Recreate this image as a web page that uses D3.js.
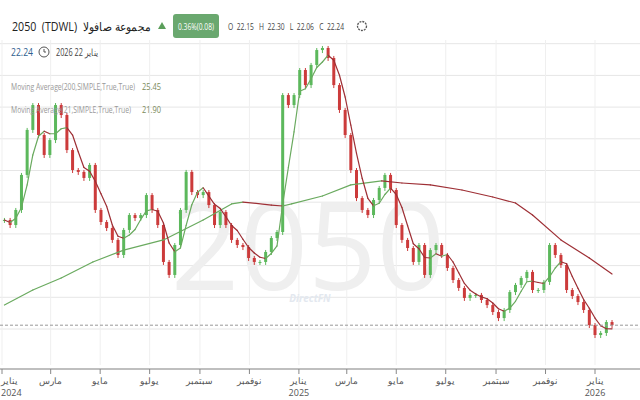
<!DOCTYPE html>
<html><head><meta charset="utf-8">
<script src="https://cdn.jsdelivr.net/npm/d3@7"></script>
<style>body{margin:0;background:#fff;font-family:"Open Sans",sans-serif}</style>
</head><body><svg id="c" width="640" height="400"></svg>
<script>
// weekly closes, starting week of 2024-01-04
const closes=[28.88,28.56,29.51,31.72,34.56,36.13,34.24,32.98,33.92,36.13,35.50,33.29,32.03,31.91,31.53,32.35,29.51,28.75,28.37,27.62,26.67,28.25,29.19,29.00,29.19,30.45,29.51,28.56,26.23,25.41,27.30,29.51,31.91,30.64,30.45,30.64,29.82,28.56,29.38,28.56,27.62,27.30,27.17,26.48,26.23,26.23,26.86,27.74,28.12,36.76,36.13,36.76,38.34,37.39,38.66,39.60,39.73,39.10,37.39,35.82,34.24,32.03,30.26,29.51,29.19,30.14,30.90,31.72,30.77,28.56,27.62,27.11,26.23,27.30,25.41,26.98,27.30,26.67,25.85,25.09,24.59,23.96,24.15,24.15,23.83,23.51,23.07,22.69,23.20,24.33,24.78,25.22,25.60,24.46,24.46,24.97,27.30,26.67,26.04,24.46,24.08,23.70,23.20,22.25,21.62,21.75,22.44,22.24];
const ma200Week=[0,5,10,15.5,21,28,35,40,42,47,49,50.6,56,61,66.4,70,75,80.5,86,90,93,98,103,107];
const ma200Vals=[23.51,24.46,25.22,26.23,26.98,27.62,28.88,29.89,30.01,29.82,29.76,29.89,30.39,31.09,31.34,31.21,31.09,30.77,30.33,29.95,29.19,27.62,26.48,25.47];
const tickDates=["2024-01-01","2024-03-01","2024-05-01","2024-07-01","2024-09-01","2024-11-01","2025-01-01","2025-03-01","2025-05-01","2025-07-01","2025-09-01","2025-11-01","2026-01-01"];
const tickLabels=["يناير","مارس","مايو","يوليو","سبتمبر","نوفمبر","يناير","مارس","مايو","يوليو","سبتمبر","نوفمبر","يناير"];
const tickYears=["2024","","","","","","2025","","","","","","2026"];
const gridPrices=[22,24,26,28,30,32,34,36,38,40];

const svg=d3.select("#c");
const start=new Date(2024,0,4);
const wk=i=>d3.timeDay.offset(start,Math.round(i*7));
const x=d3.scaleTime().domain([new Date(2024,0,1),new Date(2026,0,1)]).range([2,595]);
const y=d3.scaleLinear().domain([22,40]).range([329,43.7]);
const green="#5cb85c",red="#cc3b3b",up="#6aaa5f",down="#9e2f35";

svg.append("g").selectAll("line").data(gridPrices).join("line")
 .attr("x1",0).attr("x2",640).attr("y1",d=>y(d)).attr("y2",d=>y(d)).attr("stroke","#e6e6e6");
svg.append("g").selectAll("line").data(tickDates).join("line")
 .attr("x1",d=>x(new Date(d))).attr("x2",d=>x(new Date(d))).attr("y1",40).attr("y2",365).attr("stroke","#efefef");

svg.append("text").attr("x",308).attr("y",290).attr("text-anchor","middle").attr("font-size",120)
 .attr("font-family","Open Sans").attr("fill","#efefef").text("2050");
svg.append("text").attr("x",310).attr("y",302).attr("text-anchor","middle").attr("font-size",10).attr("font-weight","bold")
 .attr("font-style","italic").attr("fill","#e3e8ef").text("DirectFN");

const data=closes.map((c,i)=>({d:wk(i),o:i?closes[i-1]:c,c}));
const cg=svg.append("g");
data.forEach(p=>{
 const col=p.c>=p.o?green:red, top=Math.max(p.o,p.c), bot=Math.min(p.o,p.c);
 cg.append("line").attr("x1",x(p.d)).attr("x2",x(p.d)).attr("y1",y(top)-2).attr("y2",y(bot)+3).attr("stroke",col).attr("stroke-width",1);
 cg.append("rect").attr("x",x(p.d)-1.5).attr("width",3).attr("y",y(top)).attr("height",Math.max(1,y(bot)-y(top))).attr("fill",col);
});

function slopeLine(pts){
 const g=svg.append("g");
 for(let i=1;i<pts.length;i++){
  g.append("line").attr("x1",x(pts[i-1][0])).attr("y1",y(pts[i-1][1])).attr("x2",x(pts[i][0])).attr("y2",y(pts[i][1]))
   .attr("stroke",pts[i][1]>=pts[i-1][1]?up:down).attr("stroke-width",1.2).attr("stroke-linecap","round");
 }
}
slopeLine(ma200Week.map((w,i)=>[wk(w),ma200Vals[i]]));
const ma21=closes.map((c,i)=>[wk(i),d3.mean(closes.slice(Math.max(0,i-3),i+1))]);
slopeLine(ma21);

svg.append("line").attr("x1",0).attr("x2",640).attr("y1",y(22.24)).attr("y2",y(22.24)).attr("stroke","#999").attr("stroke-dasharray","3,2");

const ax=svg.append("g");
ax.append("line").attr("x1",0).attr("x2",640).attr("y1",369).attr("y2",369).attr("stroke","#aaa").attr("stroke-width",1.5);
tickDates.forEach((d,i)=>{
 const xx=x(new Date(d)), anc=i===0?"start":"middle";
 ax.append("line").attr("x1",xx).attr("x2",xx).attr("y1",369).attr("y2",374).attr("stroke","#888");
 ax.append("text").attr("x",i===0?1:xx).attr("y",384).attr("text-anchor",anc).attr("font-size",9).attr("fill","#555").text(tickLabels[i]);
 if(tickYears[i]) ax.append("text").attr("x",i===0?1:xx).attr("y",396).attr("text-anchor",anc).attr("font-size",9).attr("fill","#555").text(tickYears[i]);
});

function t(xp,yp,s,txt,fill,len){const e=svg.append("text").attr("x",xp).attr("y",yp).attr("font-size",s).attr("fill",fill).attr("style","white-space:pre").text(txt);if(len)e.attr("textLength",len).attr("lengthAdjust","spacingAndGlyphs");return e;}
t(12,31,12,"2050  (TDWL)  مجموعة صافولا","#222",138);
svg.append("path").attr("d","M158,29 l4,-7 l4,7z").attr("fill","#5a9e5a");
svg.append("rect").attr("x",173).attr("y",14).attr("width",46).attr("height",24).attr("rx",3).attr("fill","#6aa86f");
t(178,30,8.5,"0.36%(0.08)","#fff",36);
t(228,30,9,"O  22.15   H  22.30   L  22.06   C  22.24","#444",116);
svg.append("circle").attr("cx",362).attr("cy",26).attr("r",4.5).attr("fill","none").attr("stroke","#555").attr("stroke-width",1.3).attr("stroke-dasharray","2,1");
t(11,56,11,"22.24","#2f5f8f",22);
svg.append("circle").attr("cx",44).attr("cy",52).attr("r",5).attr("fill","none").attr("stroke","#555");
svg.append("path").attr("d","M44,49 v3 h2").attr("fill","none").attr("stroke","#555");
t(56,56,10,"يناير 22 2026","#444",42);
t(11,90,8.5,"Moving Average(200,SIMPLE,True,True)","#999",124);
t(142,90,9,"25.45","#7a8a5a",19);
t(11,113,8.5,"Moving Average(21,SIMPLE,True,True)","#999",120);
t(142,113,9,"21.90","#7a8a5a",19);
</script></body></html>
